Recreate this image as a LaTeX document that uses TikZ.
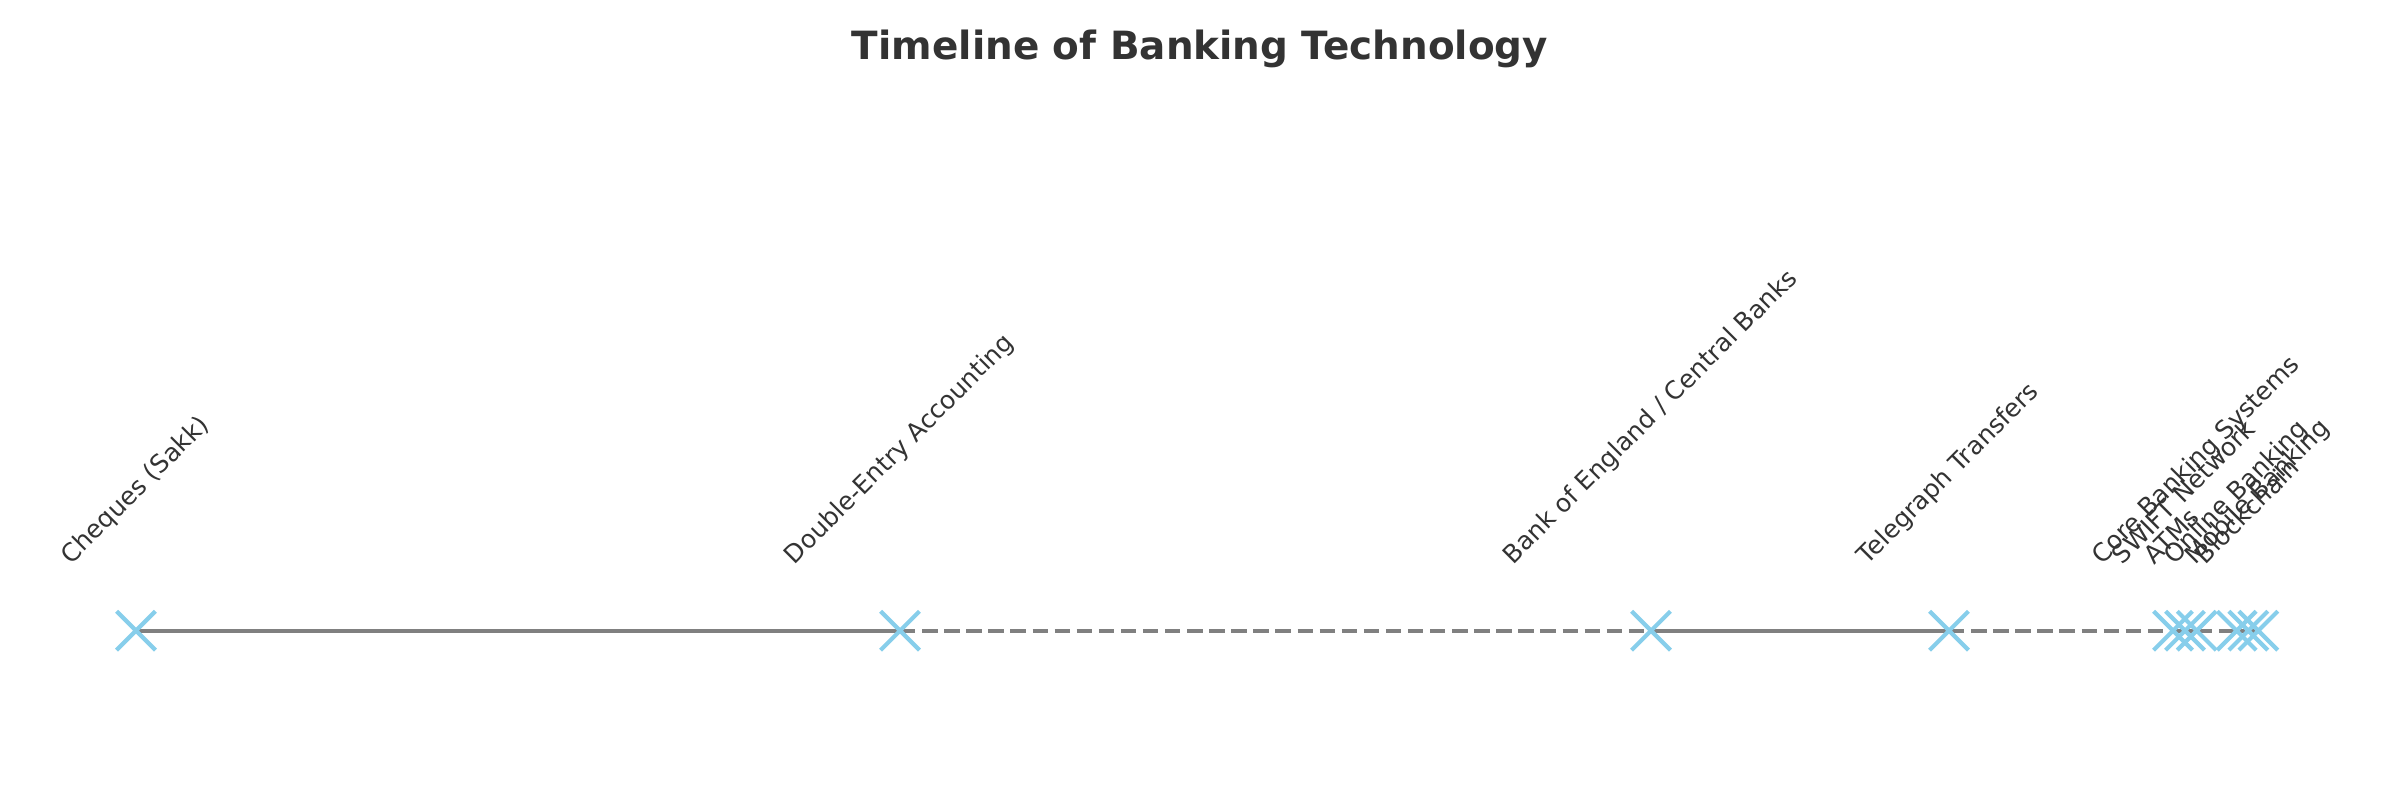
\documentclass[tikz,border=0pt]{standalone}
\usepackage{fontspec}
\usepackage{graphicx}
\setmainfont{DejaVu Sans}
\usetikzlibrary{shapes.misc,backgrounds}
\definecolor{txt}{HTML}{333333}
\definecolor{lngray}{HTML}{808080}
\definecolor{sky}{HTML}{87CEEB}
\newcommand{\lblfont}{\fontsize{9}{11}\selectfont}
% rotated label whose rotated bounding box is centred on the marker
\newcommand{\rlab}[1]{\rotatebox{45}{\rule[-0.208em]{0pt}{0.968em}#1}}
\tikzset{
  mk/.style={cross out, draw=sky, line width=1.5pt, minimum size=14pt, inner sep=0pt, outer sep=0pt},
  lbl/.style={font=\lblfont, text=txt, anchor=south, inner sep=0pt, outer sep=0pt},
  tl/.style={draw=lngray, line width=1.5pt},
  tldash/.style={tl, dash pattern=on 5.55pt off 2.4pt},
  ttl/.style={font=\fontsize{14}{17}\selectfont\bfseries, text=txt, anchor=base, inner sep=0pt}
}
\begin{document}
\begin{tikzpicture}[x=0.36pt,y=0.36pt]
\useasboundingbox (0,0) rectangle (2400,800);
\node[ttl] (title) at (1200,740) {Timeline of Banking Technology};
% markers
\node[mk] (m1) at (136,169.3) {};
\node[mk] (m2) at (900,169.3) {};
\node[mk] (m3) at (1651,169.3) {};
\node[mk] (m4) at (1949,169.3) {};
\node[mk] (m5) at (2173,169.3) {};
\node[mk] (m6) at (2185,169.3) {};
\node[mk] (m7) at (2196.7,169.3) {};
\node[mk] (m8) at (2236.7,169.3) {};
\node[mk] (m9) at (2248.3,169.3) {};
\node[mk] (m10) at (2258.3,169.3) {};
% connectors
\begin{scope}[on background layer]
\draw[tl] (m1.center) -- (m2.center);
\draw[tldash] (m2.center) -- (m3.center);
\draw[tl] (m3.center) -- (m4.center);
\draw[tldash] (m4.center) -- (m5.center);
\draw[tldash] (m5.center) -- (m6.center);
\draw[tldash] (m6.center) -- (m7.center);
\draw[tldash] (m7.center) -- (m8.center);
\draw[tldash] (m8.center) -- (m9.center);
\draw[tldash] (m9.center) -- (m10.center);
\end{scope}
% labels
\node[lbl] (l1) at ([yshift=22.3pt]m1.center) {\rlab{Cheques (Sakk)}};
\node[lbl] (l2) at ([yshift=22.3pt]m2.center) {\rlab{Double-Entry Accounting}};
\node[lbl] (l3) at ([yshift=22.3pt]m3.center) {\rlab{Bank of England / Central Banks}};
\node[lbl] (l4) at ([yshift=22.3pt]m4.center) {\rlab{Telegraph Transfers}};
\node[lbl] (l5) at ([yshift=22.3pt]m5.center) {\rlab{ATMs}};
\node[lbl] (l6) at ([yshift=22.3pt]m6.center) {\rlab{SWIFT Network}};
\node[lbl] (l7) at ([yshift=22.3pt]m7.center) {\rlab{Core Banking Systems}};
\node[lbl] (l8) at ([yshift=22.3pt]m8.center) {\rlab{Online Banking}};
\node[lbl] (l9) at ([yshift=22.3pt]m9.center) {\rlab{Blockchain}};
\node[lbl] (l10) at ([yshift=22.3pt]m10.center) {\rlab{Mobile Banking}};
\end{tikzpicture}
\end{document}
